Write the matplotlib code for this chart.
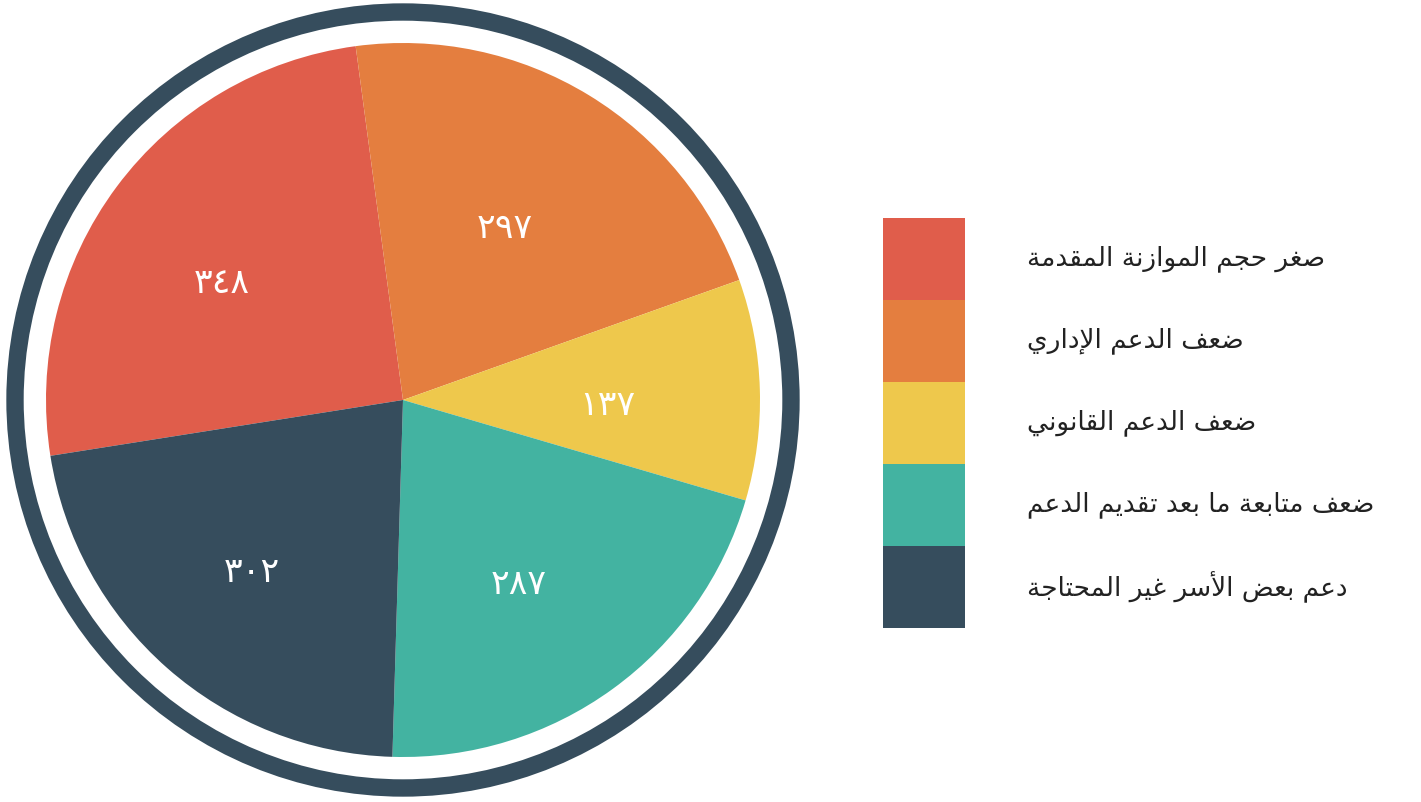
import matplotlib
matplotlib.use('Agg')
import matplotlib.pyplot as plt
from matplotlib.patches import Circle, Rectangle

labels = ['صغر حجم الموازنة المقدمة',
          'ضعف الدعم الإداري',
          'ضعف الدعم القانوني',
          'ضعف متابعة ما بعد تقديم الدعم',
          'دعم بعض الأسر غير المحتاجة']
values = [348, 297, 137, 287, 302]
colors = ['#e05d4b', '#e47e3f', '#eec84c', '#43b3a1', '#364d5d']
ring_color = '#364d5d'

# arabic presentation forms: isolated codepoint, dual joining?
forms = {
    'ا': (0xFE8D, False), 'أ': (0xFE83, False), 'إ': (0xFE87, False), 'آ': (0xFE81, False),
    'ب': (0xFE8F, True), 'ة': (0xFE93, False), 'ت': (0xFE95, True), 'ج': (0xFE9D, True),
    'ح': (0xFEA1, True), 'د': (0xFEA9, False), 'ر': (0xFEAD, False), 'ز': (0xFEAF, False),
    'س': (0xFEB1, True), 'ص': (0xFEB9, True), 'ض': (0xFEBD, True), 'ع': (0xFEC9, True),
    'غ': (0xFECD, True), 'ف': (0xFED1, True), 'ق': (0xFED5, True), 'ل': (0xFEDD, True),
    'م': (0xFEE1, True), 'ن': (0xFEE5, True), 'و': (0xFEED, False), 'ي': (0xFEF1, True),
    'لا': (0xFEFB, False), 'لأ': (0xFEF7, False), 'لإ': (0xFEF9, False), 'لآ': (0xFEF5, False),
}


def shape(s):
    tokens = []
    i = 0
    while i < len(s):
        if s[i] == 'ل' and i + 1 < len(s) and s[i:i + 2] in forms:
            tokens.append(s[i:i + 2])
            i += 2
        else:
            tokens.append(s[i])
            i += 1
    out = []
    for k, t in enumerate(tokens):
        if t not in forms:
            out.append(t)
            continue
        base, dual = forms[t]
        prev = tokens[k - 1] if k > 0 else None
        nxt = tokens[k + 1] if k + 1 < len(tokens) else None
        jp = prev in forms and forms[prev][1]
        jn = dual and nxt in forms
        if jp and jn:
            off = 3
        elif jp:
            off = 1
        elif jn:
            off = 2
        else:
            off = 0
        out.append(chr(base + off))
    return ''.join(out[::-1])


def arabic_digits(n):
    return ''.join(chr(0x0660 + int(c)) for c in str(n))


plt.rcParams['font.family'] = ['DejaVu Sans']

fig = plt.figure(figsize=(14.21, 8.03), dpi=100)
ax = fig.add_axes([0, 0, 1, 1])

cx, cy = 403, 402
total = sum(values)
wedges, texts, autotexts = ax.pie(
    values, colors=colors, center=(cx, cy), radius=357,
    startangle=189, counterclock=False, pctdistance=0.6,
    autopct=lambda p: arabic_digits(int(round(p * total / 100))),
    textprops=dict(color='white', fontsize=25),
    wedgeprops=dict(linewidth=0), frame=True)
ax.set_xlim(0, 1421)
ax.set_ylim(0, 803)
ax.set_aspect('equal')
ax.axis('off')

# nudge value labels a little down-left, like the original
for t in autotexts:
    x, y = t.get_position()
    t.set_position((x - 10, y - 10))

ax.add_patch(Circle((cx, cy), 388, fill=False, edgecolor=ring_color, linewidth=12.5))

for i, (lab, col) in enumerate(zip(labels, colors)):
    top = 803 - 219 - i * 82
    ax.add_patch(Rectangle((883, top - 82), 82, 82, facecolor=col, edgecolor='none'))
    ax.text(1027, top - 40, shape(lab), fontsize=19, color='#222222',
            ha='left', va='center')

fig.savefig('out.png', dpi=100)
